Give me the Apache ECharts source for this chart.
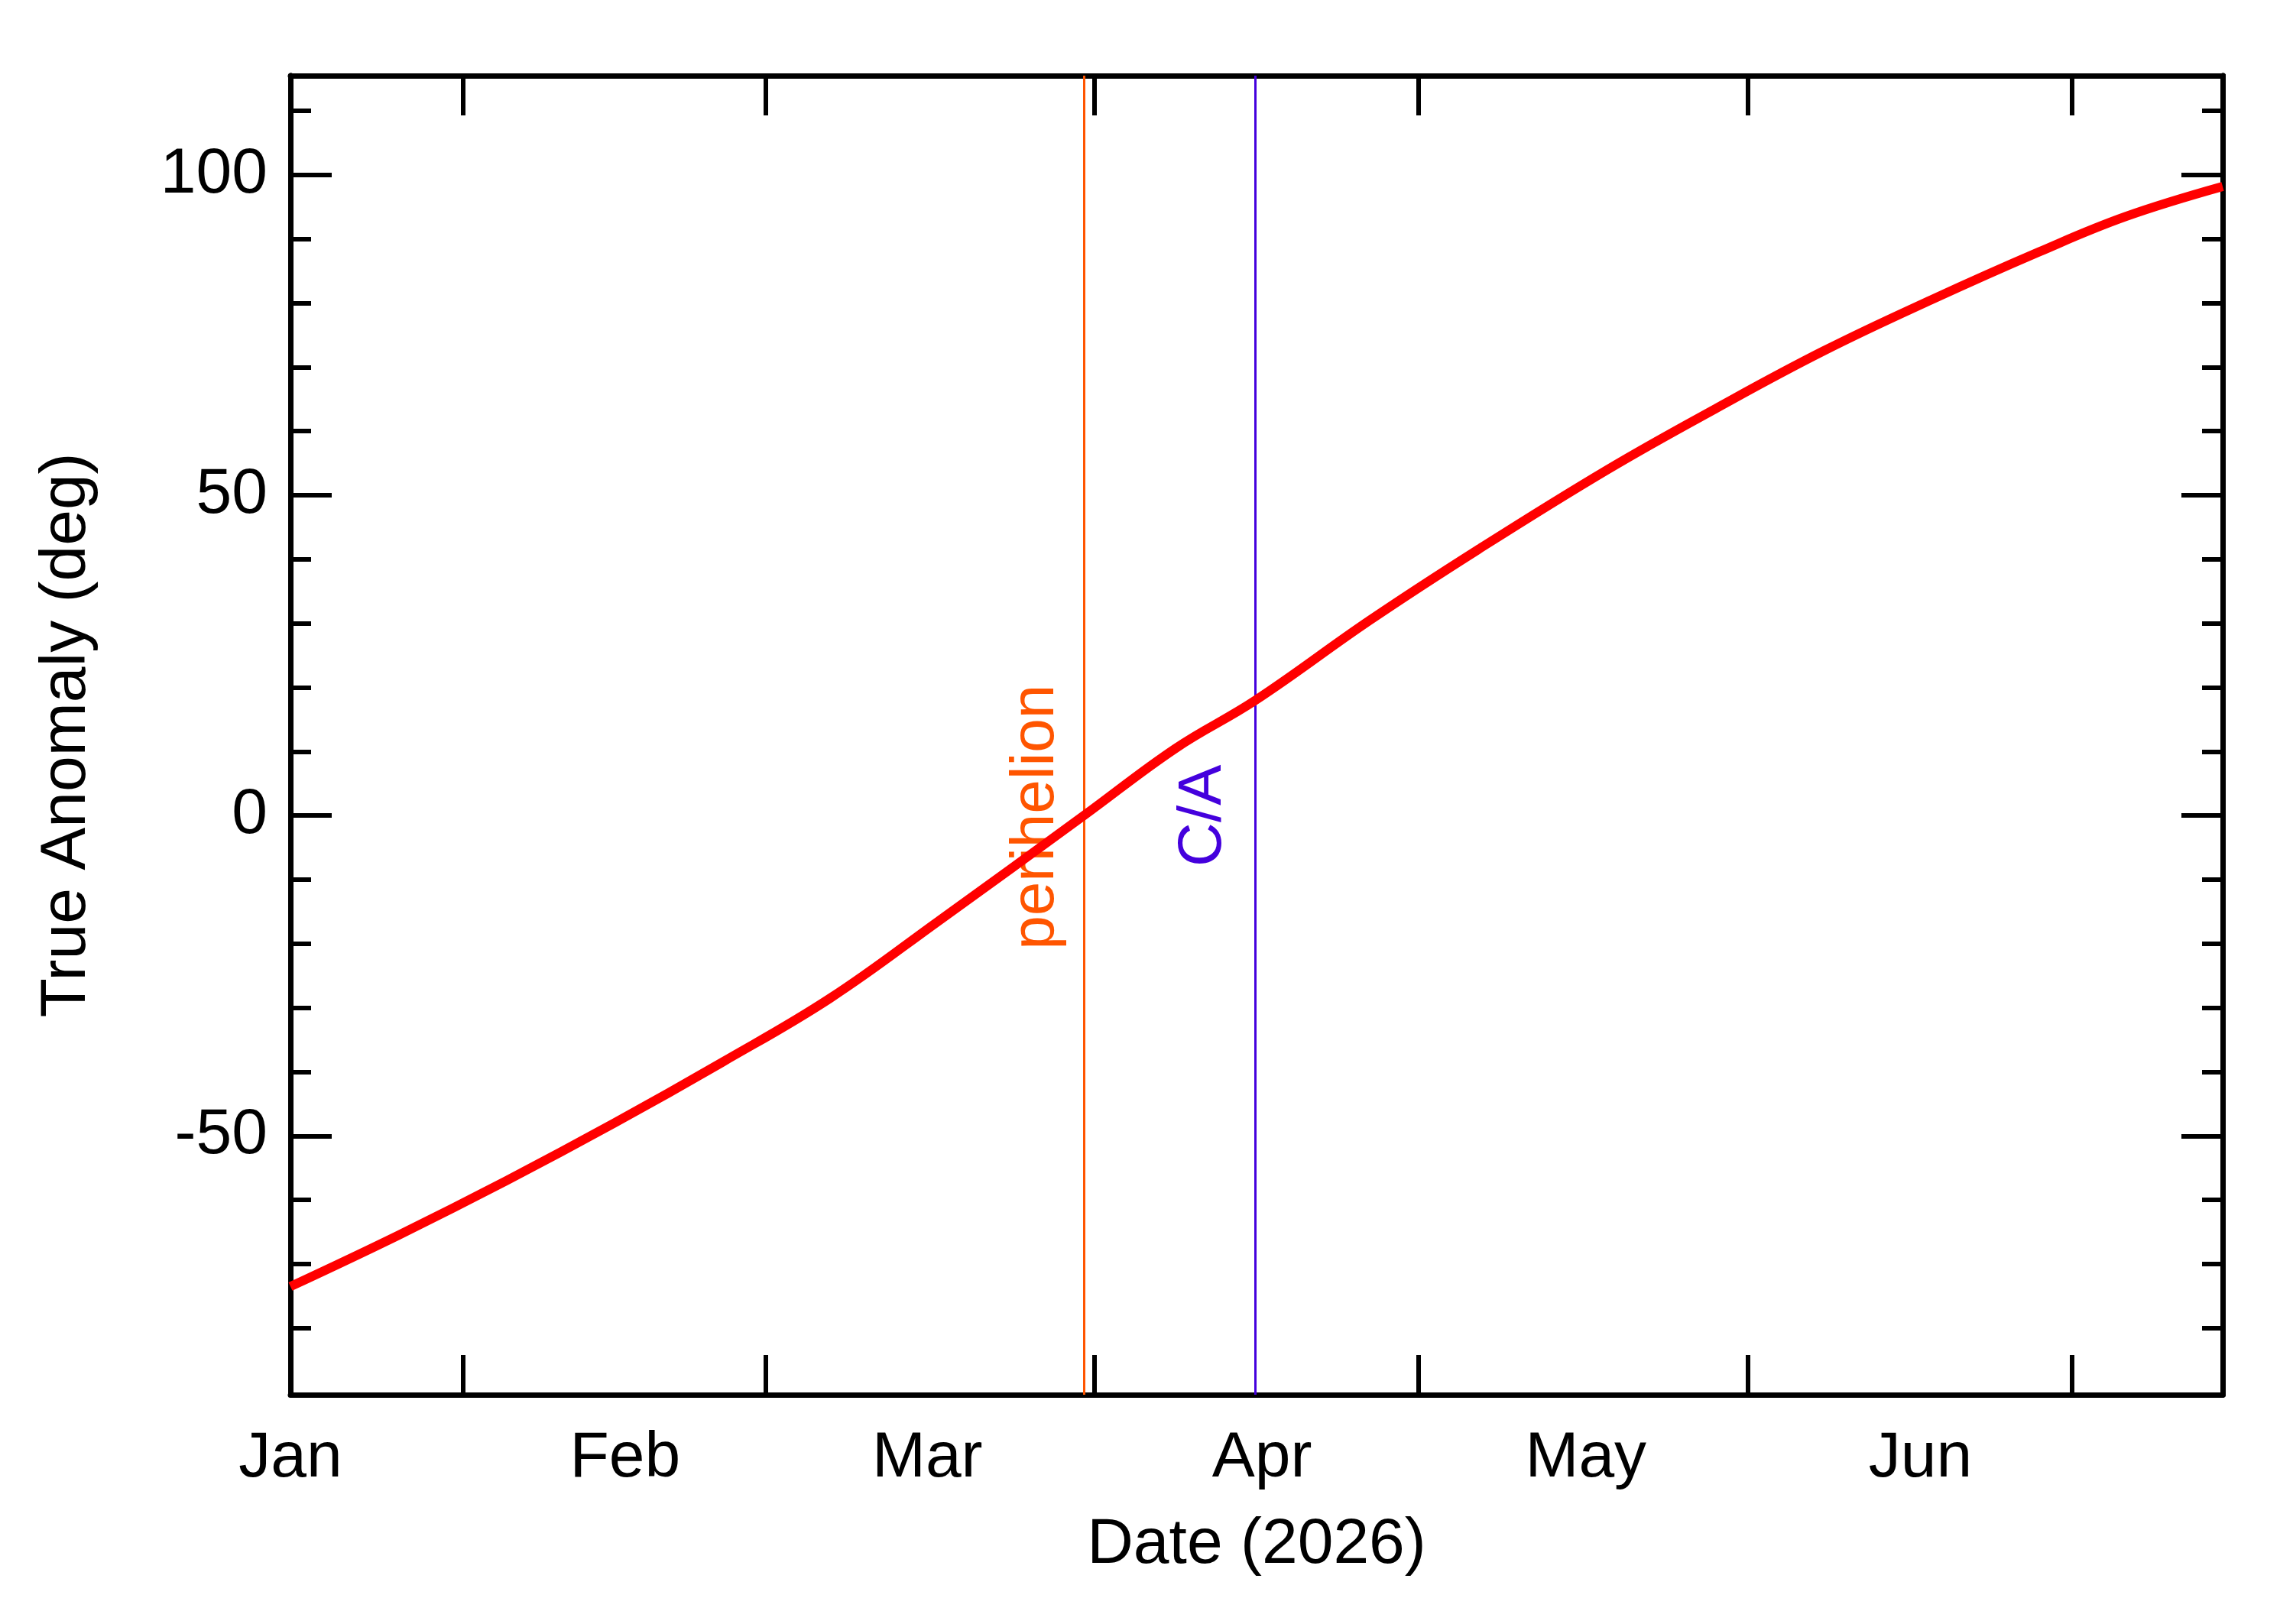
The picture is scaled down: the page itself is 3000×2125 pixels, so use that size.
<!DOCTYPE html>
<html><head><meta charset="utf-8">
<script src="https://cdn.jsdelivr.net/npm/echarts@6/dist/echarts.min.js"></script>
<style>html,body{margin:0;background:#fff}#c{width:3000px;height:2125px}</style>
</head><body><div id="c"></div>
<script>
// day-of-year (0 = Jan 1, 2026) vs true anomaly (deg)
const curveDays = [0, 10, 20, 30, 40, 50, 60, 73.5, 82, 89.4, 100, 110, 122, 132, 142, 152, 162, 170, 179];
const curveValues = [-73.5, -65.5, -57, -48, -38.5, -28.5, -16.5, 0, 10.5, 18, 30.5, 41.5, 54, 63.5, 72.5, 80.5, 88, 93.5, 98.2];
const monthLabels = ['Jan', 'Feb', 'Mar', 'Apr', 'May', 'Jun'];
const monthStartDays = [0, 31, 59, 90, 120, 151];
const xTickDays = [16, 44, 74.5, 104.5, 135, 165];
const yMajorTicks = [-50, 0, 50, 100];
const yMinorTicks = [-80, -70, -60, -40, -30, -20, -10, 10, 20, 30, 40, 60, 70, 80, 90, 110];
const perihelionDay = 73.5, closeApproachDay = 89.4;
const xMin = 0, xMax = 179, yMin = -90.4, yMax = 115.5;

const font = 'Liberation Sans, Arial, sans-serif';
const chart = echarts.init(document.getElementById('c'));
const axLine = {show: true, onZero: false, lineStyle: {color: '#000', width: 7}};
function xAx(pos, labels) {
  return {type: 'value', position: pos, min: xMin, max: xMax, axisLine: axLine, splitLine: {show: false},
    axisTick: {show: true, inside: true, length: 52, customValues: xTickDays, lineStyle: {width: 6, color: '#000'}},
    axisLabel: labels ? {show: true, customValues: monthStartDays, margin: 42, fontSize: 84, color: '#000', fontFamily: font,
      formatter: v => monthLabels[monthStartDays.indexOf(Math.round(v))] || ''} : {show: false},
    name: labels ? 'Date (2026)' : '', nameLocation: 'middle', nameGap: 155,
    nameTextStyle: {fontSize: 84, color: '#000', fontFamily: font}};
}
function yAx(pos, ticks, len, labels) {
  return {type: 'value', position: pos, min: yMin, max: yMax, axisLine: axLine, splitLine: {show: false},
    axisTick: {show: true, inside: true, length: len, customValues: ticks, lineStyle: {width: 6, color: '#000'}},
    axisLabel: labels ? {show: true, customValues: ticks, margin: 30, fontSize: 84, color: '#000', fontFamily: font} : {show: false},
    name: labels ? 'True Anomaly (deg)' : '', nameLocation: 'middle', nameGap: 250,
    nameTextStyle: {fontSize: 84, color: '#000', fontFamily: font}};
}
chart.setOption({
  backgroundColor: '#fff', animation: false,
  grid: {left: 380, right: 92, top: 99, bottom: 300},
  xAxis: [xAx('bottom', true), xAx('top', false)],
  yAxis: [yAx('left', yMajorTicks, 54, true), yAx('left', yMinorTicks, 27, false),
          yAx('right', yMajorTicks, 54, false), yAx('right', yMinorTicks, 27, false)],
  series: [{type: 'line', data: curveDays.map((d, i) => [d, curveValues[i]]), smooth: 0.4, symbol: 'none',
    lineStyle: {color: '#ff0000', width: 12}, z: 5,
    markLine: {silent: true, symbol: 'none', label: {show: false},
      data: [{xAxis: perihelionDay, lineStyle: {color: '#ff5500', width: 3, type: 'solid'}},
             {xAxis: closeApproachDay, lineStyle: {color: '#4400dd', width: 3, type: 'solid'}}]}}]
});
const p1 = chart.convertToPixel({xAxisIndex: 0, yAxisIndex: 0}, [perihelionDay, 0]);
const p2 = chart.convertToPixel({xAxisIndex: 0, yAxisIndex: 0}, [closeApproachDay, 0]);
chart.setOption({graphic: [
  {type: 'text', x: p1[0] - 62, y: p1[1] + 2, rotation: Math.PI / 2,
    style: {text: 'perihelion', fontSize: 80, fill: '#ff5500', fontFamily: font, align: 'center', verticalAlign: 'middle'}},
  {type: 'text', x: p2[0] - 68, y: p2[1], rotation: Math.PI / 2,
    style: {text: 'C/A', fontSize: 80, fill: '#4400dd', fontFamily: font, align: 'center', verticalAlign: 'middle'}}
]});
</script></body></html>
